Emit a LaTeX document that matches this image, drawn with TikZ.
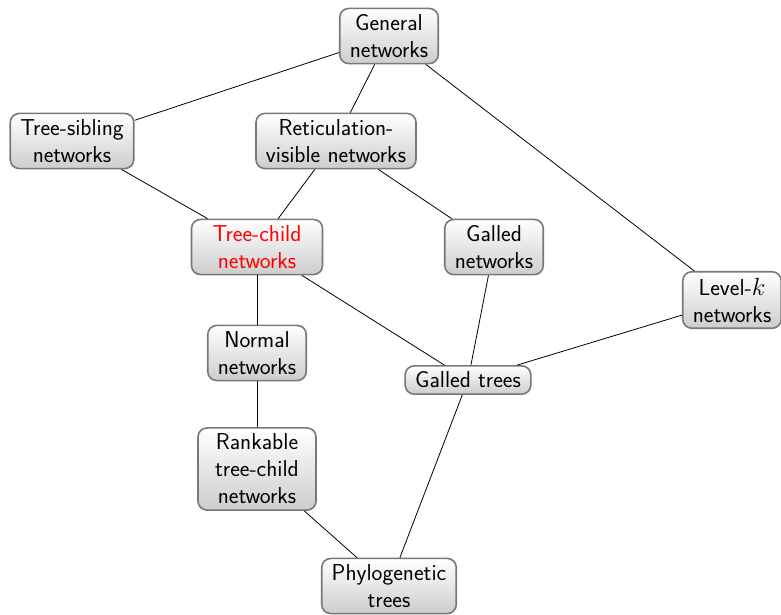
\documentclass[tikz,border=0pt]{standalone}
\usepackage{xcolor}
\definecolor{boxborder}{RGB}{120,120,120}
\definecolor{boxbottom}{RGB}{205,205,205}
\begin{document}
\begin{tikzpicture}[x=1pt,y=-1pt,
  nbox/.style={draw=boxborder, line width=1.6pt, rounded corners=9pt,
    top color=white, bottom color=boxbottom, align=center,
    font=\sffamily\fontsize{23}{27}\selectfont, inner xsep=10pt, inner ysep=6pt},
  conn/.style={draw=black, line width=0.8pt}]
\useasboundingbox (0,0) rectangle (781,614);
\node[nbox] (gen) at (389,36) {General\\networks};
\node[nbox] (ts) at (72,141) {Tree-sibling\\networks};
\node[nbox] (rv) at (336,141) {Reticulation-\\visible networks};
\node[nbox, text=red, minimum width=131pt] (tc) at (257,247) {Tree-child\\networks};
\node[nbox] (gn) at (494,247) {Galled\\networks};
\node[nbox] (lk) at (732,300) {Level-$k$\\networks};
\node[nbox] (nn) at (257,353) {Normal\\networks};
\node[nbox] (gt) at (468,380) {Galled trees};
\node[nbox, minimum width=118pt] (rk) at (257,469) {Rankable\\tree-child\\networks};
\node[nbox] (ph) at (389,586) {Phylogenetic\\trees};
\draw[conn] (gen) -- (ts);
\draw[conn] (gen) -- (rv);
\draw[conn] (gen) -- (lk);
\draw[conn] (ts) -- (tc);
\draw[conn] (rv) -- (tc);
\draw[conn] (rv) -- (gn);
\draw[conn] (tc) -- (nn);
\draw[conn] (tc) -- (gt);
\draw[conn] (gn) -- (gt);
\draw[conn] (lk) -- (gt);
\draw[conn] (nn) -- (rk);
\draw[conn] (rk) -- (ph);
\draw[conn] (gt) -- (ph);
\end{tikzpicture}
\end{document}
